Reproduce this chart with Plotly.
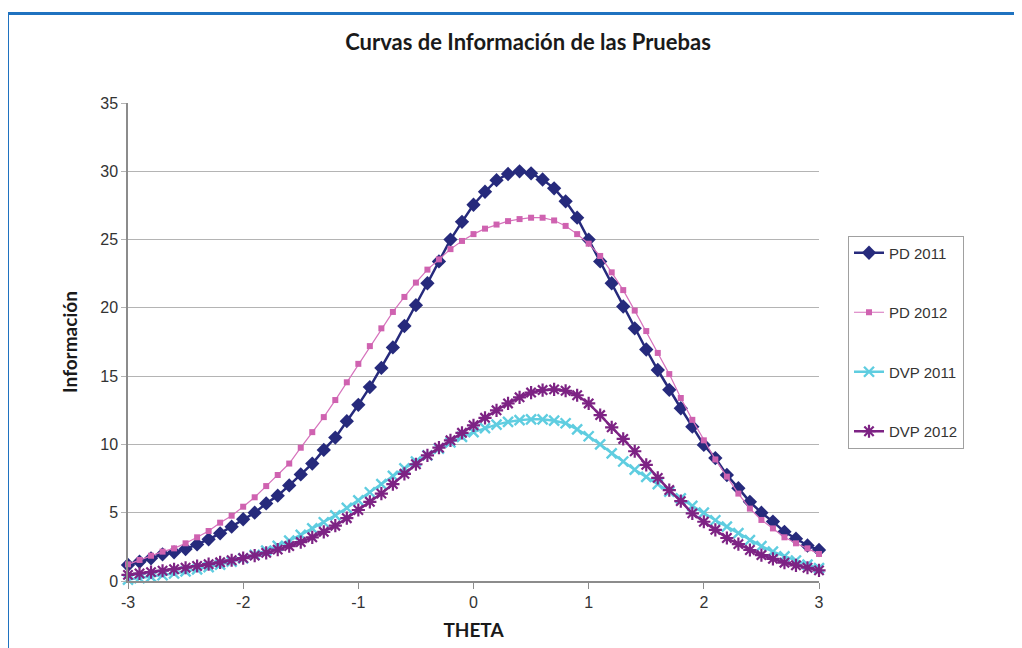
import plotly.graph_objects as go

# theta grid: -3 .. 3 step 0.1
theta = [round(-3 + 0.1 * i, 1) for i in range(61)]

pd_2011 = [1.17, 1.41, 1.66, 1.95, 2.1, 2.34, 2.68, 3.05, 3.49, 3.98,
           4.52, 5.0, 5.68, 6.25, 7.0, 7.8, 8.6, 9.6, 10.5, 11.7,
           12.9, 14.2, 15.6, 17.1, 18.67, 20.2, 21.8, 23.4, 25.0, 26.3,
           27.55, 28.5, 29.35, 29.8, 30.0, 29.85, 29.4, 28.75, 27.8, 26.6,
           25.0, 23.4, 21.8, 20.1, 18.5, 16.95, 15.45, 14.0, 12.65, 11.3,
           9.96, 9.0, 7.76, 6.8, 5.8, 5.0, 4.35, 3.6, 3.1, 2.6, 2.27]

pd_2012 = [1.22, 1.54, 1.85, 2.15, 2.39, 2.76, 3.2, 3.66, 4.27, 4.78,
           5.44, 6.13, 6.95, 7.76, 8.6, 9.76, 10.9, 12.0, 13.25, 14.55,
           15.9, 17.2, 18.5, 19.7, 20.8, 21.85, 22.8, 23.55, 24.3, 24.9,
           25.4, 25.8, 26.1, 26.35, 26.5, 26.6, 26.6, 26.4, 26.0, 25.4,
           24.7, 23.8, 22.6, 21.3, 19.8, 18.3, 16.7, 15.15, 13.4, 11.8,
           10.3, 8.9, 7.64, 6.4, 5.3, 4.47, 3.85, 3.2, 2.76, 2.39, 1.98]

dvp_2011 = [0.1, 0.2, 0.3, 0.42, 0.55, 0.7, 0.85, 1.02, 1.2, 1.42,
            1.65, 1.92, 2.22, 2.57, 2.95, 3.38, 3.85, 4.3, 4.8, 5.35,
            5.9, 6.5, 7.1, 7.7, 8.25, 8.75, 9.2, 9.7, 10.15, 10.55,
            10.9, 11.2, 11.45, 11.65, 11.78, 11.84, 11.84, 11.74, 11.55, 11.1,
            10.6, 10.0, 9.35, 8.75, 8.15, 7.62, 7.1, 6.55, 6.05, 5.5,
            5.0, 4.45, 3.98, 3.5, 3.0, 2.55, 2.15, 1.8, 1.5, 1.2, 0.95]

dvp_2012 = [0.45, 0.55, 0.65, 0.75, 0.86, 0.97, 1.1, 1.23, 1.37, 1.52,
            1.68, 1.86, 2.06, 2.3, 2.56, 2.85, 3.2, 3.6, 4.05, 4.6,
            5.2, 5.8, 6.4, 7.1, 7.85, 8.55, 9.2, 9.76, 10.3, 10.85,
            11.4, 11.95, 12.5, 13.0, 13.45, 13.8, 13.98, 14.03, 13.93, 13.6,
            13.0, 12.15, 11.25, 10.4, 9.5, 8.5, 7.55, 6.66, 5.85, 4.95,
            4.34, 3.75, 3.15, 2.7, 2.27, 1.9, 1.62, 1.34, 1.15, 0.97, 0.78]

x_ticks = [-3, -2, -1, 0, 1, 2, 3]
y_ticks = [0, 5, 10, 15, 20, 25, 30, 35]

# the page puts the figure 8px in from the top-left corner
OFF = 8
W, H = 1022, 648
L, R, T, B = 128 - OFF, 211, 103 - OFF, 75
pw, ph = W - L - R, H - T - B


def px_x(p):
    # page pixel -> paper x
    return (p - OFF - L) / pw


def px_y(p):
    # page pixel -> paper y
    return (H - B - (p - OFF)) / ph


tick_font = dict(family="Liberation Sans Narrow, Arial Narrow, Arial", size=16, color="#333333")
label_font = dict(family="Lato, Open Sans, sans-serif", size=19, color="#1a1a1a")

fig = go.Figure()

fig.add_trace(go.Scatter(
    x=theta, y=pd_2011, name="PD 2011", mode="lines+markers",
    line=dict(color="#262a7c", width=2.5),
    marker=dict(symbol="diamond", size=11, color="#262a7c"),
    cliponaxis=False, legendgroup="a"))

fig.add_trace(go.Scatter(
    x=theta, y=pd_2012, name="PD 2012", mode="lines+markers",
    line=dict(color="#d672bc", width=1.2),
    marker=dict(symbol="square", size=6, color="#cf62b0"),
    cliponaxis=False, legendgroup="b"))

fig.add_trace(go.Scatter(
    x=theta, y=dvp_2011, name="DVP 2011", mode="lines+markers",
    line=dict(color="#5fcde0", width=2.5),
    marker=dict(symbol="x-thin-open", size=10, color="#5fcde0",
                line=dict(color="#5fcde0", width=2.4)),
    cliponaxis=False, legendgroup="c"))

fig.add_trace(go.Scatter(
    x=theta, y=dvp_2012, name="DVP 2012", mode="lines+markers",
    line=dict(color="#7d2384", width=2.5),
    marker=dict(symbol="asterisk-open", size=11, color="#7d2384",
                line=dict(color="#7d2384", width=2.2)),
    cliponaxis=False, legendgroup="d"))

# blue frame around the whole chart (runs off the right and bottom)
fig.add_shape(type="rect", xref="paper", yref="paper",
              x0=px_x(7.5), x1=px_x(1060),
              y0=px_y(680), y1=px_y(13.5),
              line=dict(color="#1f72c0", width=3), layer="below")

fig.update_layout(
    width=W, height=H,
    margin=dict(l=L, r=R, t=T, b=B),
    paper_bgcolor="white", plot_bgcolor="white",
    title=dict(text="<b>Curvas de Información de las Pruebas</b>",
               x=(528 - OFF) / W, xanchor="center", y=1 - (42 - OFF) / H, yanchor="middle",
               font=dict(family="Lato, Open Sans, sans-serif", size=22, color="#1a1a1a")),
    legend=dict(x=px_x(848), xanchor="left", y=px_y(342), yanchor="middle",
                bordercolor="#a0a0a0", borderwidth=1, bgcolor="white",
                tracegroupgap=37,
                font=dict(family="Liberation Sans Narrow, Arial Narrow, Arial", size=15, color="#333333")),
    showlegend=True,
)

fig.update_xaxes(
    range=[-3, 3], tickvals=x_ticks, ticktext=[str(v) for v in x_ticks],
    showgrid=False, zeroline=False, showline=True, linecolor="#8c8c8c", linewidth=1.5,
    ticks="outside", ticklen=6, tickcolor="#8c8c8c", tickfont=tick_font,
    title=dict(text="<b>THETA</b>", standoff=14, font=label_font))

fig.update_yaxes(
    range=[0, 35], tickvals=y_ticks,
    showgrid=True, gridcolor="#b4b4b4", gridwidth=1.2, zeroline=False,
    showline=True, linecolor="#8c8c8c", linewidth=1.5,
    ticks="outside", ticklen=5, tickcolor="#b4b4b4", tickfont=tick_font,
    title=dict(text="<b>Información</b>", standoff=18, font=label_font))

fig.write_html("out.html")
